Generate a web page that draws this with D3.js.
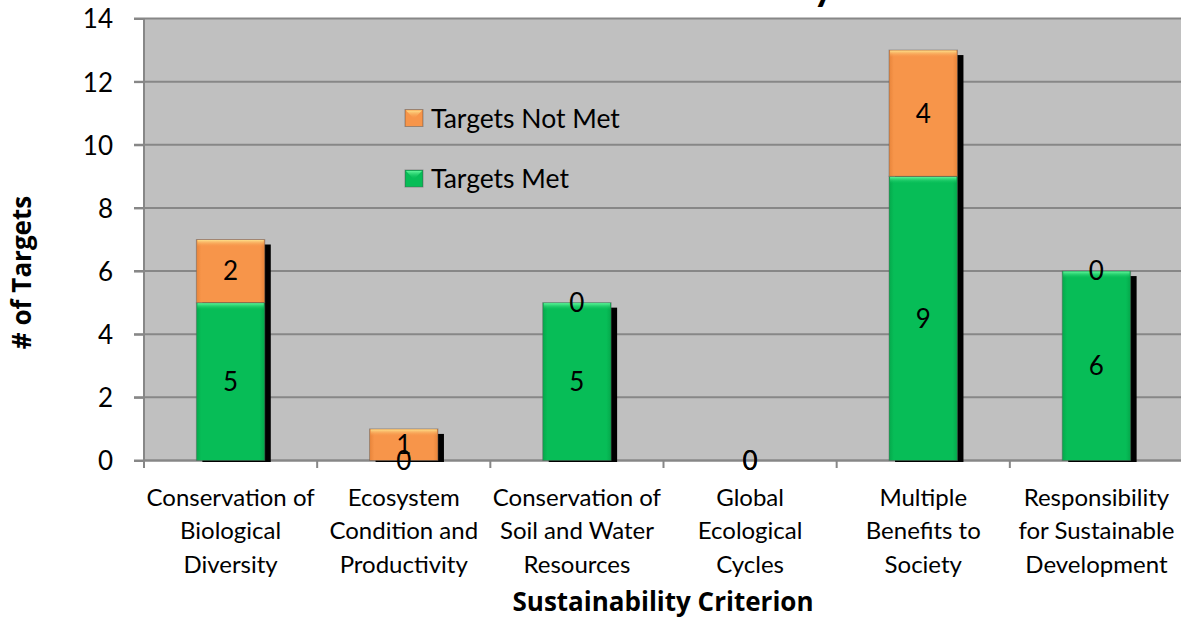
<!DOCTYPE html>
<html><head><meta charset="utf-8">
<script src="https://cdn.jsdelivr.net/npm/d3@7"></script>
<style>html,body{margin:0;padding:0;background:#fff;overflow:hidden}svg{display:block}text{font-family:Lato,"Liberation Sans",sans-serif}</style>
</head><body>
<svg id="chart" width="1181" height="617"></svg>
<script>
const categories = ["Conservation of Biological Diversity","Ecosystem Condition and Productivity","Conservation of Soil and Water Resources","Global Ecological Cycles","Multiple Benefits to Society","Responsibility for Sustainable Development"];
const categoryLines = [["Conservation of","Biological","Diversity"],["Ecosystem","Condition and","Productivity"],["Conservation of","Soil and Water","Resources"],["Global","Ecological","Cycles"],["Multiple","Benefits to","Society"],["Responsibility","for Sustainable","Development"]];
const targetsMet = [5, 0, 5, 0, 9, 6];
const targetsNotMet = [2, 1, 0, 0, 4, 0];
const yTicks = [0, 2, 4, 6, 8, 10, 12, 14];
const seriesNames = ["Targets Met", "Targets Not Met"];
const titleText = "Criteria Summary";
const xTitle = "Sustainability Criterion";
const yTitle = "# of Targets";

const svg = d3.select("#chart");
const m = {left:144, right:1183, top:18.5, bottom:460.5};
const x = d3.scaleBand().domain(categories).range([m.left, m.right]).padding(0);
const y = d3.scaleLinear().domain([0,14]).range([m.bottom, m.top]);
const barFrac = 0.395;
const bw = x.bandwidth()*barFrac;
const bx = c => x(c) + (x.bandwidth()-bw)/2;
const boldFont = "'Open Sans',Lato,sans-serif";

const defs = svg.append("defs");
function grads(id, base, light, dark){
  const g = defs.append("linearGradient").attr("id",id).attr("x1",0).attr("x2",1).attr("y1",0).attr("y2",0);
  g.append("stop").attr("offset","0").attr("stop-color",dark);
  g.append("stop").attr("offset","0.07").attr("stop-color",base);
  g.append("stop").attr("offset","0.93").attr("stop-color",base);
  g.append("stop").attr("offset","1").attr("stop-color",dark);
  const t = defs.append("linearGradient").attr("id",id+"T").attr("x1",0).attr("x2",0).attr("y1",0).attr("y2",1);
  t.append("stop").attr("offset","0").attr("stop-color",light).attr("stop-opacity",1);
  t.append("stop").attr("offset","1").attr("stop-color",base).attr("stop-opacity",0);
}
grads("gG","#07bd57","#5ff59a","#05a84b");
grads("gO","#f7954a","#fde08a","#e8843a");

// title (mostly above the visible area, as in the reference)
svg.append("text").attr("x",834).attr("y",0).attr("text-anchor","end")
  .attr("font-weight","bold").attr("font-size",40).attr("fill","#000").text(titleText);

// plot background
svg.append("rect").attr("x",m.left).attr("y",m.top).attr("width",m.right-m.left).attr("height",m.bottom-m.top).attr("fill","#c0c0c0");

// gridlines
svg.append("g").selectAll("line").data(yTicks).join("line")
  .attr("x1",134).attr("x2",m.right).attr("y1",d=>y(d)).attr("y2",d=>y(d))
  .attr("stroke","#878787").attr("stroke-width",2);

// y axis
const yAxis = svg.append("g").attr("transform",`translate(${m.left},0)`)
  .call(d3.axisLeft(y).tickValues(yTicks).tickSize(10).tickPadding(21));
yAxis.select(".domain").attr("stroke","#878787").attr("stroke-width",2).attr("d",`M0,${m.top}V468`);
yAxis.selectAll(".tick line").attr("stroke","#878787").attr("stroke-width",2);
yAxis.selectAll(".tick text").attr("font-size",26).attr("fill","#000").style("font-family","Lato").attr("dy","0.36em");

// x axis
const xAxis = svg.append("g").attr("transform",`translate(0,${m.bottom})`)
  .call(d3.axisBottom(x).tickSize(0).tickFormat(""));
xAxis.select(".domain").attr("stroke","#878787").attr("stroke-width",2).attr("d",`M${m.left},0H${m.right}`);
svg.append("g").selectAll("line").data(categories).join("line")
  .attr("x1",d=>x(d)+x.bandwidth()).attr("x2",d=>x(d)+x.bandwidth())
  .attr("y1",m.bottom).attr("y2",468).attr("stroke","#878787").attr("stroke-width",2);

// category labels
const cl = svg.append("g").selectAll("text").data(categories).join("text")
  .attr("text-anchor","middle").attr("font-size",24).attr("fill","#000");
cl.each(function(d,i){
  const t = d3.select(this);
  categoryLines[i].forEach((ln,j)=>{
    t.append("tspan").attr("x",x(d)+x.bandwidth()/2).attr("y",505.5+j*33.5).text(ln);
  });
});

// stacked data
const rows = categories.map((c,i)=>({c, met:targetsMet[i], not:targetsNotMet[i]}));
const stack = d3.stack().keys(["met","not"])(rows);

// shadows
svg.append("g").selectAll("rect").data(rows.filter(r=>r.met+r.not>0)).join("rect")
  .attr("x",d=>bx(d.c)+6).attr("width",bw).attr("y",d=>y(d.met+d.not)+5)
  .attr("height",d=>462-(y(d.met+d.not)+5)).attr("fill","#000");

const fills = ["gG","gO"];
stack.forEach((s,k)=>{
  const g = svg.append("g");
  const segs = s.filter(d=>d[1]-d[0]>0);
  g.selectAll("rect.b").data(segs).join("rect").attr("class","b")
    .attr("x",d=>bx(d.data.c)).attr("width",bw).attr("y",d=>y(d[1])).attr("height",d=>y(d[0])-y(d[1]))
    .attr("fill",`url(#${fills[k]})`).attr("stroke","rgba(90,90,90,0.45)").attr("stroke-width",1);
  g.selectAll("rect.t").data(segs).join("rect").attr("class","t")
    .attr("x",d=>bx(d.data.c)+1).attr("width",bw-2).attr("y",d=>y(d[1])+0.5).attr("height",7)
    .attr("fill",`url(#${fills[k]}T)`);
});

// value labels
stack.forEach((s,k)=>{
  svg.append("g").selectAll("text").data(s).join("text")
    .attr("x",d=>bx(d.data.c)+bw/2).attr("y",d=>(y(d[0])+y(d[1]))/2).attr("dy","0.36em")
    .attr("text-anchor","middle").attr("font-size",26).attr("fill","#000")
    .text(d=>d[1]-d[0]);
});

// legend
const leg = [{name:seriesNames[1],f:"gO",yc:118},{name:seriesNames[0],f:"gG",yc:178.5}];
const lg = svg.append("g").selectAll("g").data(leg).join("g");
lg.append("rect").attr("x",405).attr("y",d=>d.yc-8.5).attr("width",18).attr("height",17)
  .attr("fill",d=>`url(#${d.f})`).attr("stroke","rgba(90,90,90,0.5)");
lg.append("path").attr("d",d=>`M406,${d.yc-7.5}L422,${d.yc-7.5}L414,${d.yc+1}Z`).attr("fill",d=>`url(#${d.f}T)`);
lg.append("text").attr("x",431).attr("y",d=>d.yc).attr("dy","0.36em").attr("font-size",26.5).attr("fill","#000").text(d=>d.name);

// axis titles
svg.append("text").attr("x",663).attr("y",611).attr("text-anchor","middle")
  .style("font-family",boldFont).attr("font-weight","bold").attr("font-size",26).attr("fill","#000").text(xTitle);
svg.append("text").attr("transform","translate(22,272.5) rotate(-90)").attr("dy","0.36em").attr("text-anchor","middle")
  .style("font-family",boldFont).attr("font-weight","bold").attr("font-size",26).attr("fill","#000").text(yTitle);
</script>
</body></html>
